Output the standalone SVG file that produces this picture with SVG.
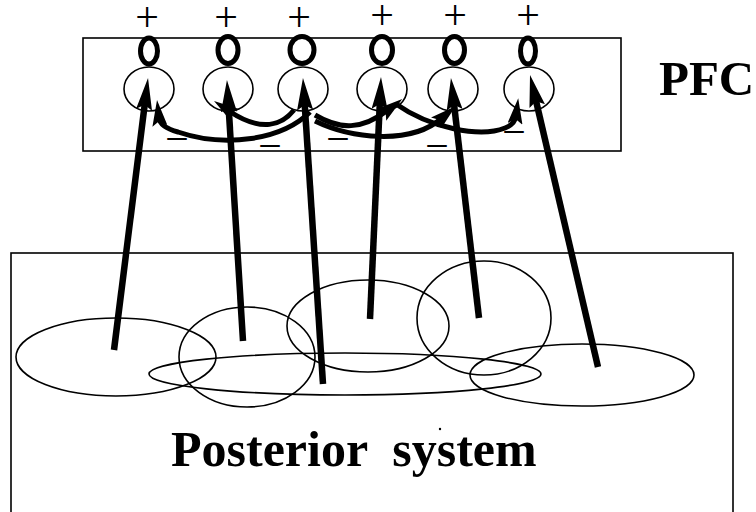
<svg xmlns="http://www.w3.org/2000/svg" width="756" height="512" viewBox="0 0 756 512">
<defs>
<style>
.box{fill:none;stroke:#000;stroke-width:1.6}
.cell{fill:none;stroke:#000;stroke-width:1.6}
.ring{fill:none;stroke:#000;stroke-width:5}
.area{fill:none;stroke:#000;stroke-width:1.6}
.shaft{fill:none;stroke:#000;stroke-width:6.5;marker-end:url(#bigHead)}
.inhib{fill:none;stroke:#000;stroke-width:5;marker-end:url(#smallHead)}
.plus{font-family:"Liberation Serif","Times New Roman",serif;font-size:42px;text-anchor:middle;fill:#000}
.minus{font-family:"Liberation Serif","Times New Roman",serif;font-size:38px;text-anchor:middle;fill:#000}
.title{font-family:"Liberation Serif","Times New Roman",serif;font-weight:bold;fill:#000}
</style>
<marker id="bigHead" markerUnits="userSpaceOnUse" markerWidth="32" markerHeight="16" viewBox="0 0 32 16" refX="10" refY="8" orient="auto">
<path d="M0,0 L32,8 L0,16 L5,8 z" fill="#000"/>
</marker>
<marker id="smallHead" markerUnits="userSpaceOnUse" markerWidth="26" markerHeight="15" viewBox="0 0 26 15" refX="8" refY="7.5" orient="auto">
<path d="M0,0 L26,7.5 L0,15 L5,7.5 z" fill="#000"/>
</marker>
</defs>
<rect width="756" height="512" fill="#fff"/>

<g id="pfc">
<rect class="box" x="83" y="38" width="538" height="113"/>
<text class="title" x="659" y="95" font-size="49">PFC</text>
</g>

<g id="posterior-system">
<rect class="box" x="11" y="253" width="722" height="280"/>
<text class="title" x="171" y="466" font-size="50" style="white-space:pre" xml:space="preserve">Posterior  system</text>
<circle cx="440" cy="429" r="1.2" fill="#000"/>
</g>

<g id="area-1"><ellipse class="area" cx="116" cy="357" rx="100" ry="39"/></g>
<g id="area-2"><ellipse class="area" cx="247" cy="357" rx="68" ry="50"/></g>
<g id="area-3"><ellipse class="area" cx="368" cy="326" rx="81" ry="46"/></g>
<g id="area-4"><ellipse class="area" cx="484" cy="318" rx="67" ry="57"/></g>
<g id="area-5"><ellipse class="area" cx="582" cy="375" rx="112" ry="31"/></g>
<g id="area-6"><ellipse class="area" cx="345" cy="374" rx="196" ry="21"/></g>

<g id="neuron-1">
<text class="plus" x="147" y="31">+</text>
<ellipse class="ring" cx="149" cy="51" rx="8.5" ry="13"/>
<ellipse class="cell" cx="149" cy="89" rx="25" ry="22"/>
</g>
<g id="neuron-2">
<text class="plus" x="226" y="31">+</text>
<ellipse class="ring" cx="228" cy="50" rx="10" ry="13.5"/>
<ellipse class="cell" cx="228" cy="89" rx="25" ry="22"/>
</g>
<g id="neuron-3">
<text class="plus" x="299" y="31">+</text>
<ellipse class="ring" cx="302" cy="50" rx="12" ry="13.5"/>
<ellipse class="cell" cx="303" cy="89" rx="25" ry="22"/>
</g>
<g id="neuron-4">
<text class="plus" x="382" y="29">+</text>
<ellipse class="ring" cx="382" cy="50" rx="10.5" ry="13.5"/>
<ellipse class="cell" cx="382" cy="89" rx="25" ry="22"/>
</g>
<g id="neuron-5">
<text class="plus" x="455" y="29">+</text>
<ellipse class="ring" cx="454.5" cy="50" rx="10" ry="13.5"/>
<ellipse class="cell" cx="453" cy="89" rx="25" ry="22"/>
</g>
<g id="neuron-6">
<text class="plus" x="528" y="29">+</text>
<ellipse class="ring" cx="528" cy="51" rx="7.5" ry="13"/>
<ellipse class="cell" cx="529" cy="89" rx="25" ry="22"/>
</g>

<g id="connectors">
<path class="shaft" d="M114,350 L145.3,99.8"/>
<path class="shaft" d="M243,341 L228.3,102"/>
<path class="shaft" d="M323,384 L304.4,100"/>
<path class="shaft" d="M370,319 L380,99"/>
<path class="shaft" d="M479,318 L453.5,99.9"/>
<path class="shaft" d="M598,367 L535,96.4"/>
<path class="inhib" d="M310,112 C282,140 225,148 178,132 Q160,127 159,118"/>
<path class="inhib" d="M294,110 C282,125 262,133 229,111"/>
<path class="inhib" d="M315,115 C340,130 362,130 388,110"/>
<path class="inhib" d="M315,121 C350,138 410,146 442,118"/>
<path class="inhib" d="M396,104 C430,128 480,138 505,128 Q515,124 516,116"/>
<text class="minus" x="177" y="147.5">–</text>
<text class="minus" x="270" y="154.5">–</text>
<text class="minus" x="338" y="147.5">–</text>
<text class="minus" x="437" y="154.5">–</text>
<text class="minus" x="514" y="140.5">–</text>
</g>
</svg>
